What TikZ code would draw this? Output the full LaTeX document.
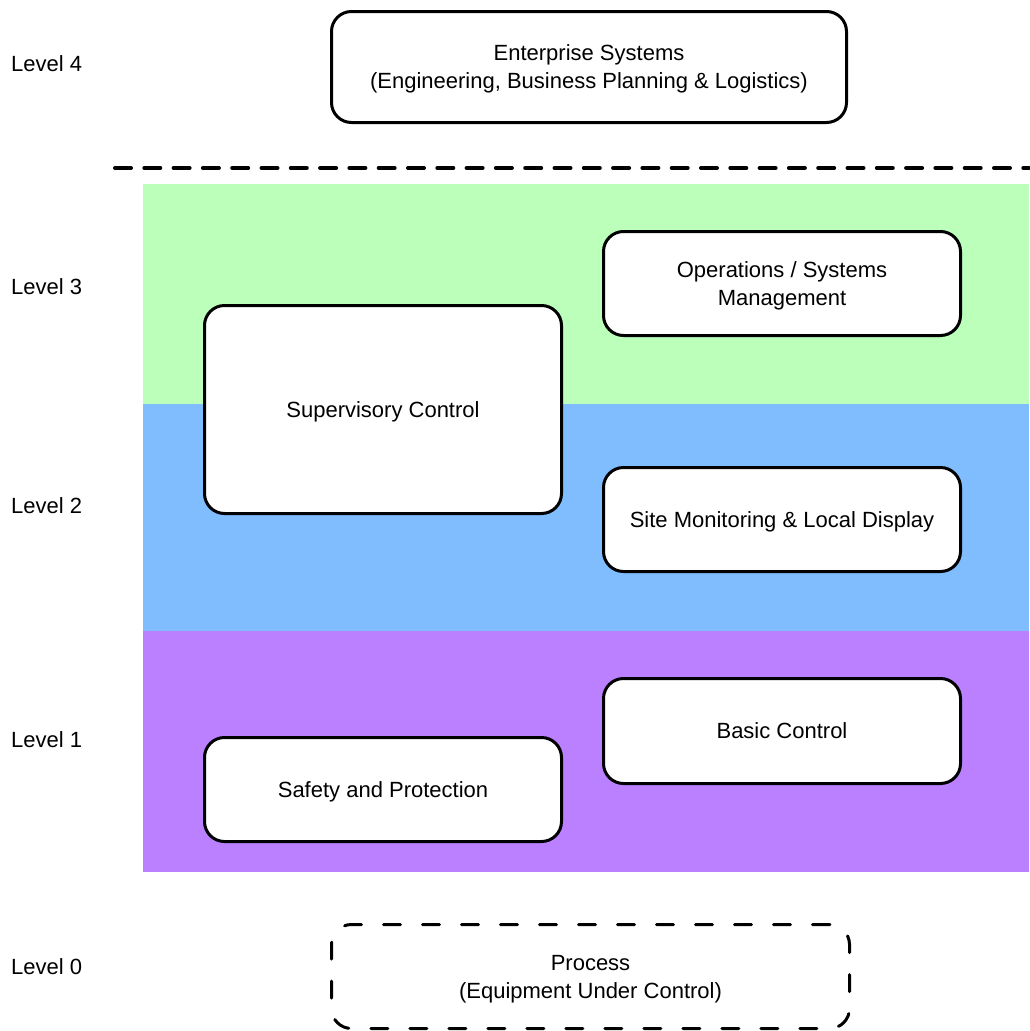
\documentclass[tikz,border=0pt]{standalone}
\usepackage{fontspec}
\setmainfont{Liberation Sans}
\definecolor{bandgreen}{RGB}{187,255,187}
\definecolor{bandblue}{RGB}{128,189,255}
\definecolor{bandpurple}{RGB}{186,128,255}
\begin{document}
\begin{tikzpicture}[x=1pt,y=-1pt,
  txt/.style={font=\fontsize{22}{28}\selectfont},
  box/.style={txt, draw, line width=3pt, rounded corners=20pt, fill=white, align=center, inner sep=0pt, text depth=0pt},
  lvl/.style={txt, anchor=west, inner sep=0pt},
  sep/.style={line width=4pt, dash pattern=on 16pt off 13.3pt, line cap=round},
  procbox/.style={box, dash pattern=on 17pt off 22pt, line cap=round, fill=none},
]
\useasboundingbox (0,0) rectangle (1029,1031);
% bands
\fill[bandgreen] (143,184) rectangle (1029,404);
\fill[bandblue] (143,404) rectangle (1029,631);
\fill[bandpurple] (143,631) rectangle (1029,872);
% separator
\coordinate (sepL) at (115,168);
\coordinate (sepR) at (1029,168);
\draw[sep] (sepL) -- (sepR);
% level labels
\node[lvl] (l4) at (11,64) {Level 4};
\node[lvl] (l3) at (11,287) {Level 3};
\node[lvl] (l2) at (11,506) {Level 2};
\node[lvl] (l1) at (11,740) {Level 1};
\node[lvl] (l0) at (11,967) {Level 0};
% boxes
\node[box, minimum width=515pt, minimum height=111pt] (ent) at (589,67)
  {Enterprise Systems\\(Engineering, Business Planning \& Logistics)};
\node[box, minimum width=357pt, minimum height=104pt] (ops) at (782,283.5)
  {Operations / Systems\\Management};
\node[box, minimum width=357pt, minimum height=208pt] (sup) at (383,409.5)
  {Supervisory Control};
\node[box, minimum width=357pt, minimum height=104pt] (site) at (782,519.5)
  {Site Monitoring \& Local Display};
\node[box, minimum width=357pt, minimum height=105pt] (basic) at (782,731)
  {Basic Control};
\node[box, minimum width=357pt, minimum height=104pt] (safe) at (383,789.5)
  {Safety and Protection};
\node[procbox, minimum width=518pt, minimum height=104pt] (proc) at (590.5,976.5)
  {Process\\(Equipment Under Control)};
\end{tikzpicture}
\end{document}
